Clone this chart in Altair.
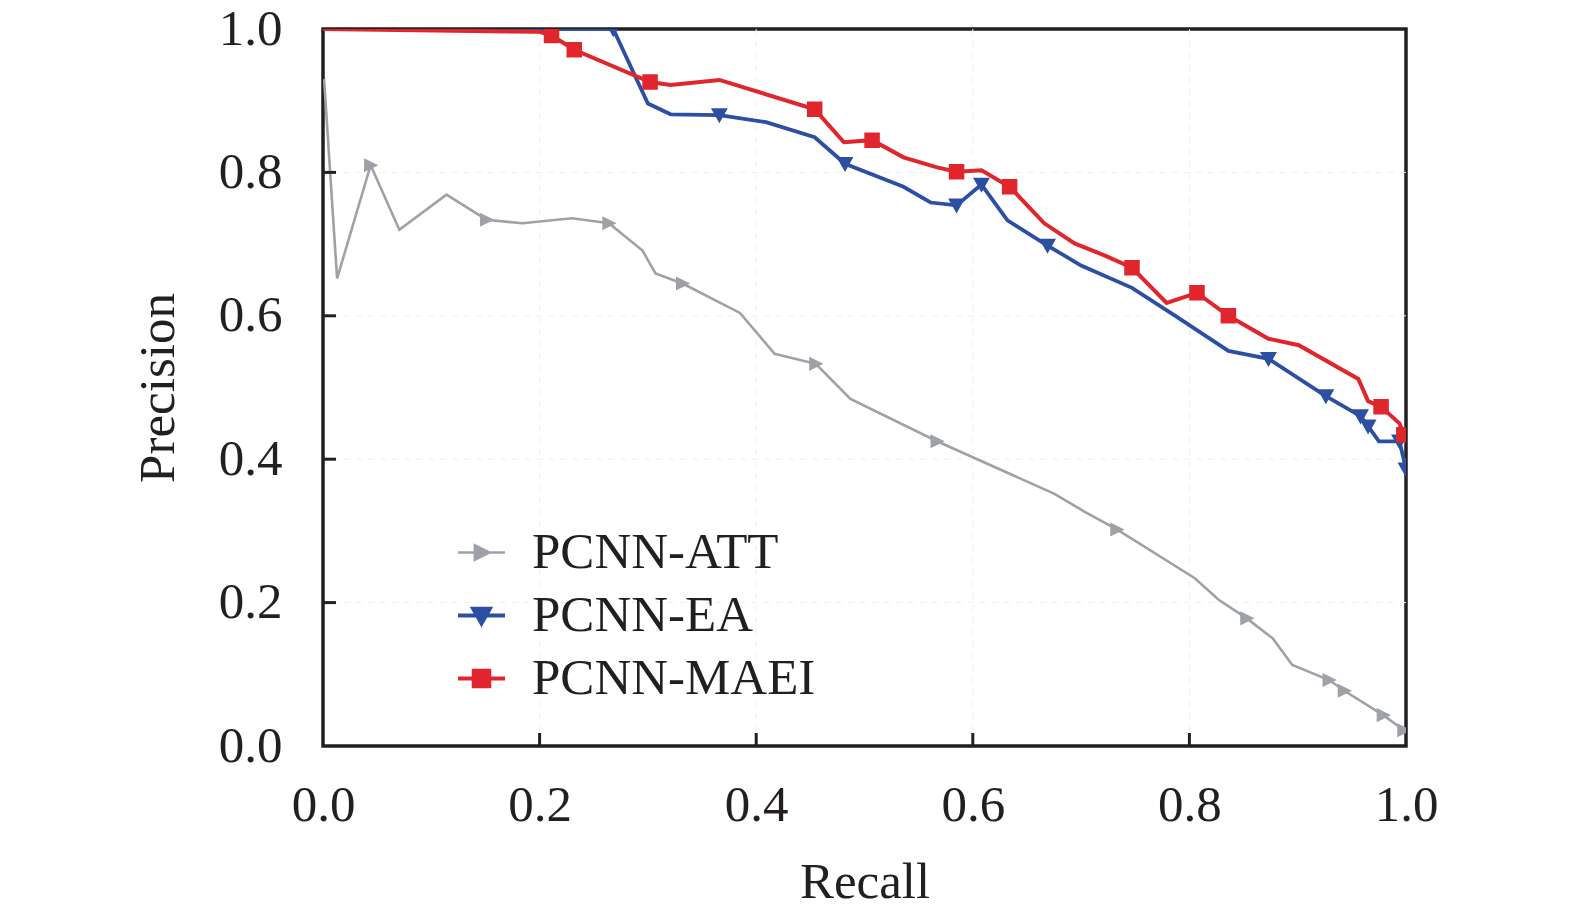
import altair as alt
import pandas as pd

series_names = ["PCNN-ATT", "PCNN-EA", "PCNN-MAEI"]

att_recall = [0.001, 0.013, 0.044, 0.0705, 0.114, 0.151, 0.184, 0.230, 0.264, 0.295,
              0.307, 0.332, 0.385, 0.417, 0.455, 0.487, 0.567, 0.675, 0.703, 0.733,
              0.805, 0.827, 0.853, 0.877, 0.895, 0.929, 0.943, 0.979, 0.998]
att_precision = [0.93, 0.652, 0.810, 0.720, 0.769, 0.734, 0.729, 0.736, 0.729, 0.691,
                 0.659, 0.645, 0.604, 0.547, 0.533, 0.484, 0.425, 0.352, 0.327, 0.302,
                 0.234, 0.204, 0.178, 0.150, 0.113, 0.092, 0.077, 0.043, 0.022]
att_marker = [0, 0, 1, 0, 0, 1, 0, 0, 1, 0,
              0, 1, 0, 0, 1, 0, 1, 0, 0, 1,
              0, 0, 1, 0, 0, 1, 1, 1, 1]

ea_recall = [0.0, 0.268, 0.300, 0.321, 0.366, 0.409, 0.454, 0.482, 0.536, 0.561,
             0.585, 0.608, 0.632, 0.669, 0.700, 0.747, 0.787, 0.836, 0.873, 0.926,
             0.958, 0.965, 0.975, 0.994, 1.0]
ea_precision = [1.0, 1.0, 0.896, 0.881, 0.880, 0.870, 0.849, 0.812, 0.780, 0.758,
                0.754, 0.783, 0.733, 0.698, 0.670, 0.639, 0.600, 0.551, 0.540, 0.488,
                0.460, 0.446, 0.425, 0.425, 0.386]
ea_marker = [0, 1, 0, 0, 1, 0, 0, 1, 0, 0,
             1, 1, 0, 1, 0, 0, 0, 0, 1, 1,
             1, 1, 0, 1, 1]

maei_recall = [0.0, 0.20, 0.211, 0.232, 0.302, 0.321, 0.366, 0.454, 0.481, 0.507,
               0.536, 0.567, 0.585, 0.608, 0.634, 0.666, 0.694, 0.722, 0.747, 0.779,
               0.807, 0.836, 0.873, 0.901, 0.956, 0.965, 0.977, 0.994, 0.998]
maei_precision = [1.0, 0.996, 0.991, 0.971, 0.926, 0.922, 0.929, 0.888, 0.842, 0.845,
                  0.821, 0.807, 0.801, 0.803, 0.780, 0.729, 0.701, 0.684, 0.667, 0.618,
                  0.632, 0.600, 0.568, 0.559, 0.512, 0.481, 0.473, 0.450, 0.434]
maei_marker = [0, 0, 1, 1, 1, 0, 0, 1, 0, 1,
               0, 0, 1, 0, 1, 0, 0, 0, 1, 0,
               1, 1, 0, 0, 0, 0, 1, 0, 1]

tick_values = [0.2, 0.4, 0.6, 0.8]
label_values = [0.0, 0.2, 0.4, 0.6, 0.8, 1.0]

rows = []
for name, xs, ys, ms in [
    ("PCNN-ATT", att_recall, att_precision, att_marker),
    ("PCNN-EA", ea_recall, ea_precision, ea_marker),
    ("PCNN-MAEI", maei_recall, maei_precision, maei_marker),
]:
    for i, (x, y, m) in enumerate(zip(xs, ys, ms)):
        rows.append({"series": name, "recall": x, "precision": y, "marker": m, "i": i})
df = pd.DataFrame(rows)
tdf = pd.DataFrame({"t": tick_values})

colors = ["#9ea2a7", "#2c4fa3", "#e1252c"]
line_widths = [2.6, 3.8, 4.0]
shapes = [
    "M-1,0H1M-0.28,-0.3L0.33,0L-0.28,0.3Z",
    "M-1,0H1M-0.36,-0.29L0.36,-0.29L0,0.35Z",
    "M-1,0H1M-0.33,-0.33H0.33V0.33H-0.33Z",
]
FONT = "Liberation Serif"
INK = "#231f20"
GRID = "#efefef"

xscale = alt.Scale(domain=[0, 1], nice=False, zero=False)
yscale = alt.Scale(domain=[0, 1], nice=False, zero=False)

axis_x = alt.Axis(values=label_values, format=".1f", ticks=False, domain=False, grid=False,
                  labelPadding=34, labelFontSize=51, labelFont=FONT, labelColor=INK,
                  labelOverlap=False, labelFlush=False,
                  title="Recall", titleFontSize=51, titleFont=FONT, titleFontWeight="normal",
                  titleColor=INK, titlePadding=27)
axis_y = alt.Axis(values=label_values, format=".1f", ticks=False, domain=False, grid=False,
                  labelPadding=41, labelFontSize=51, labelFont=FONT, labelColor=INK,
                  labelOverlap=False, labelFlush=False,
                  title="Precision", titleFontSize=51, titleFont=FONT, titleFontWeight="normal",
                  titleColor=INK, titlePadding=34)

legend = alt.Legend(title=None, orient="none", legendX=133, legendY=498,
                    labelFont=FONT, labelFontSize=51, labelColor=INK, labelOffset=25,
                    symbolSize=2209, rowPadding=11, padding=0, labelLimit=600)

# faint dashed grid
xgrid = alt.Chart(tdf).mark_rule(color=GRID, strokeWidth=1, strokeDash=[6, 6]).encode(
    x=alt.X("t:Q", scale=xscale, axis=axis_x))
ygrid = alt.Chart(tdf).mark_rule(color=GRID, strokeWidth=1, strokeDash=[6, 6]).encode(
    y=alt.Y("t:Q", scale=yscale, axis=axis_y))

base = alt.Chart(df)

lines = base.mark_line(clip=True).encode(
    x=alt.X("recall:Q", scale=xscale, axis=axis_x),
    y=alt.Y("precision:Q", scale=yscale, axis=axis_y),
    color=alt.Color("series:N", scale=alt.Scale(domain=series_names, range=colors), legend=legend),
    strokeWidth=alt.StrokeWidth("series:N",
                                scale=alt.Scale(type="ordinal", domain=series_names, range=line_widths),
                                legend=legend),
    order="i:Q",
)

points = base.transform_filter("datum.marker == 1").mark_point(
    filled=True, size=2209, opacity=1, clip=True
).encode(
    x=alt.X("recall:Q", scale=xscale, axis=axis_x),
    y=alt.Y("precision:Q", scale=yscale, axis=axis_y),
    shape=alt.Shape("series:N", scale=alt.Scale(domain=series_names, range=shapes), legend=legend),
    fill=alt.Fill("series:N", scale=alt.Scale(domain=series_names, range=colors), legend=legend),
)

xticks = alt.Chart(tdf).mark_rule(color=INK, strokeWidth=3).encode(
    x=alt.X("t:Q", scale=xscale, axis=axis_x),
    y=alt.value(717), y2=alt.value(704),
)
yticks = alt.Chart(tdf).mark_rule(color=INK, strokeWidth=3).encode(
    y=alt.Y("t:Q", scale=yscale, axis=axis_y),
    x=alt.value(0), x2=alt.value(13),
)

chart = alt.layer(xgrid, ygrid, lines, points, xticks, yticks).properties(
    width=1083, height=717,
    padding={"left": 315, "top": 21, "right": 60, "bottom": 164},
    autosize=alt.AutoSizeParams(type="none"),
    background="white",
).configure_view(stroke=INK, strokeWidth=3.5)

chart.save("out.html", embed_options={"renderer": "svg", "actions": False})
